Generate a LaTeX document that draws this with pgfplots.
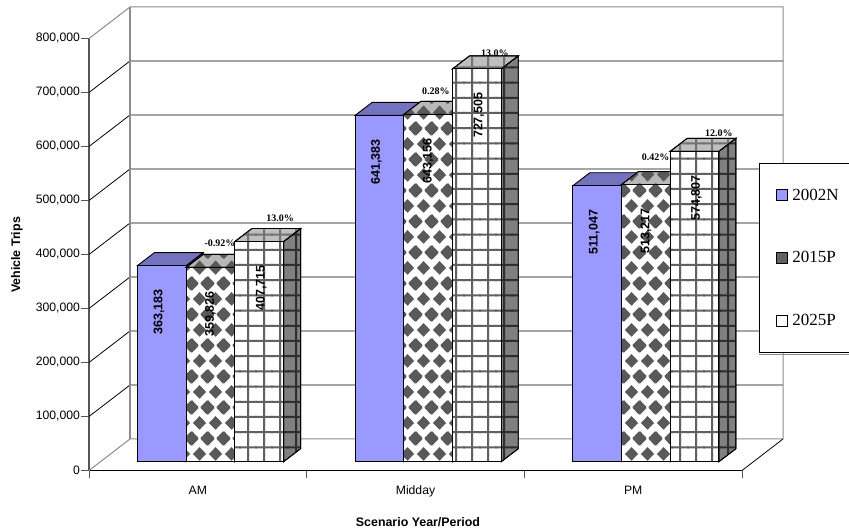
\documentclass[border=0pt]{standalone}
\usepackage{fontspec}
\setmainfont{Liberation Sans}
\newfontfamily\timesfont{Liberation Serif}
\usepackage{pgfplots}
\pgfplotsset{compat=1.18}
\usetikzlibrary{patterns}

% Repeating fills for the two projected-year series
\pgfdeclarepatternformonly{diamondtile}{\pgfqpoint{0bp}{0bp}}{\pgfqpoint{16bp}{31bp}}{\pgfqpoint{16bp}{31bp}}{
  \foreach \cx/\cy in {0/0,16/0,0/31,16/31,8/15.5}{
    \pgfpathmoveto{\pgfpoint{\cx bp-7bp}{\cy bp}}
    \pgfpathlineto{\pgfpoint{\cx bp}{\cy bp+7bp}}
    \pgfpathlineto{\pgfpoint{\cx bp+7bp}{\cy bp}}
    \pgfpathlineto{\pgfpoint{\cx bp}{\cy bp-7bp}}
    \pgfpathclose
  }
  \pgfusepath{fill}
}
% The strokes overrun the step a little so that neighbouring tiles join without a seam
\pgfdeclarepatternformonly{gridtile}{\pgfqpoint{-1bp}{-1bp}}{\pgfqpoint{17bp}{16.2bp}}{\pgfqpoint{16bp}{15.2bp}}{
  \pgfpathrectangle{\pgfqpoint{7bp}{-1bp}}{\pgfqpoint{2bp}{17.2bp}}
  \pgfpathrectangle{\pgfqpoint{-1bp}{6.6bp}}{\pgfqpoint{18bp}{2bp}}
  \pgfusepath{fill}
}

\definecolor{baseblue}{HTML}{9999FF}
\definecolor{basetop}{HTML}{7272C0}
\definecolor{baseside}{HTML}{5C5C99}
\definecolor{axisgray}{HTML}{555555}
\definecolor{wallgray}{HTML}{8C8C8C}

\tikzset{
  edge/.style={draw=black,line width=0.9bp,line join=miter},
  basefront/.style={edge,fill=baseblue},
  basetopface/.style={edge,fill=basetop},
  basesideface/.style={edge,fill=baseside},
  diamondfront/.style={edge,preaction={fill=white},pattern=diamondtile,pattern color=black!65},
  diamondtopface/.style={edge,preaction={fill=black!28},pattern=diamondtile,pattern color=black!65},
  diamondsideface/.style={edge,preaction={fill=black!50},pattern=diamondtile,pattern color=black!80},
  gridfront/.style={edge,preaction={fill=white},pattern=gridtile,pattern color=black!62},
  gridtopface/.style={edge,preaction={fill=black!25},pattern=gridtile,pattern color=black!55},
  gridsideface/.style={edge,preaction={fill=black!50},pattern=gridtile,pattern color=black!82},
}

% Side and top of one bar: left edge, width, value, side style, top style.
% The depth runs 17 units of width to the right and 13 units of height upward.
\newcommand{\barfaces}[5]{%
  \edef\facecmds{%
    \noexpand\addplot[#4,forget plot] coordinates {
      (\fpeval{#1+#2},0) (\fpeval{#1+#2+0.0781},24074)
      (\fpeval{#1+#2+0.0781},\fpeval{#3+24074}) (\fpeval{#1+#2},#3)} -- cycle;
    \noexpand\addplot[#5,forget plot] coordinates {
      (#1,#3) (\fpeval{#1+0.0781},\fpeval{#3+24074})
      (\fpeval{#1+#2+0.0781},\fpeval{#3+24074}) (\fpeval{#1+#2},#3)} -- cycle;
  }\facecmds
}

\pgfplotsset{
  valuelabel/.style={
    draw=none,forget plot,point meta=y,
    nodes near coords,
    nodes near coords align={center},
    every node near coord/.append style={
      yshift=-46.5bp,xshift=#1,rotate=90,
      font=\bfseries\fontsize{12.5bp}{14bp}\selectfont,
      /pgf/number format/fixed,
      /pgf/number format/precision=0,
      /pgf/number format/1000 sep={,},
      /pgf/number format/assume math mode=true,
      inner sep=0pt},
  },
}

\begin{document}
\begin{tikzpicture}
\useasboundingbox (0,0) rectangle (849bp,531bp);

% Front axis with the back wall, floor and side wall of the chart box
\begin{axis}[
  at={(89bp,60.5bp)},anchor=south west,
  scale only axis,width=653bp,height=432bp,
  clip=false,
  xmin=0,xmax=3,ymin=0,ymax=800000,
  axis x line*=bottom,axis y line*=left,
  x axis line style={black,line width=1bp,-},
  y axis line style={axisgray,line width=1.6bp,-},
  xtick={0,1,2,3},
  x tick label as interval=true,
  xticklabels={AM,Midday,PM},
  ytick={0,100000,200000,300000,400000,500000,600000,700000,800000},
  scaled y ticks=false,
  tick align=outside,
  major tick length=7.5bp,
  tick style={axisgray,line width=1bp},
  tick label style={font=\fontsize{12.2bp}{14bp}\selectfont},
  xticklabel style={yshift=-4.5bp},
  yticklabel style={xshift=2bp},
  /pgf/number format/fixed,
  /pgf/number format/1000 sep={,},
  /pgf/number format/assume math mode=true,
  xlabel={Scenario Year/Period},
  ylabel={Vehicle Trips},
  every axis x label/.style={at={(axis description cs:0.5038,-0.1192)},anchor=center,
    font=\bfseries\fontsize{12.4bp}{14bp}\selectfont},
  every axis y label/.style={at={(axis description cs:-0.1103,0.4988)},rotate=90,anchor=center,
    font=\bfseries\fontsize{12.4bp}{14bp}\selectfont},
]
\addplot[wallgray,line width=1bp] coordinates {(0,0) (0.18836,58333) (3.18836,58333)};
\addplot[black,line width=0.8bp] coordinates {(3,0) (3.18836,58333)};
\addplot[black,line width=0.8bp] coordinates {(0,100000) (0.18836,158333) (3.18836,158333)};
\addplot[black,line width=0.8bp] coordinates {(0,200000) (0.18836,258333) (3.18836,258333)};
\addplot[black,line width=0.8bp] coordinates {(0,300000) (0.18836,358333) (3.18836,358333)};
\addplot[black,line width=0.8bp] coordinates {(0,400000) (0.18836,458333) (3.18836,458333)};
\addplot[black,line width=0.8bp] coordinates {(0,500000) (0.18836,558333) (3.18836,558333)};
\addplot[black,line width=0.8bp] coordinates {(0,600000) (0.18836,658333) (3.18836,658333)};
\addplot[black,line width=0.8bp] coordinates {(0,700000) (0.18836,758333) (3.18836,758333)};
\addplot[wallgray,line width=1bp] coordinates {(0,800000) (0.18836,858333) (3.18836,858333) (3.18836,58333)};
\addplot[wallgray,line width=1.2bp] coordinates {(0.18836,58333) (0.18836,858333)};
\end{axis}

% Bars stand on the floor, a little behind the front axis
\begin{axis}[
  at={(89bp,69.3bp)},anchor=south west,
  scale only axis,width=653bp,height=432bp,
  clip=false,hide axis,
  xmin=0,xmax=3,ymin=0,ymax=800000,
  legend cell align=left,
  legend style={
    at={(1.026,0.6907)},anchor=north west,
    draw=black,line width=0.8bp,fill=white,
    inner xsep=17bp,inner ysep=23bp,
    row sep=46bp,
    /tikz/column 2/.style={column sep=5bp},
    font=\timesfont\fontsize{17bp}{18bp}\selectfont,
  },
]
% 2002N
\barfaces{0.2228}{0.2237}{363183}{basesideface}{basetopface}
\barfaces{1.2228}{0.2237}{641383}{basesideface}{basetopface}
\barfaces{2.2228}{0.2237}{511047}{basesideface}{basetopface}
\addplot[ybar,bar width=48.7bp,bar shift=0pt,basefront,
  legend image code/.code={\draw[edge,fill=baseblue] (0bp,-5.5bp) rectangle (11bp,5.5bp);}]
  coordinates {(0.3347,363183) (1.3347,641383) (2.3347,511047)};
\addlegendentry{\hspace{2bp}2002N\hspace{30bp}}
% 2015P
\barfaces{0.4465}{0.2237}{359826}{diamondsideface}{diamondtopface}
\barfaces{1.4465}{0.2237}{643156}{diamondsideface}{diamondtopface}
\barfaces{2.4465}{0.2237}{513217}{diamondsideface}{diamondtopface}
\addplot[ybar,bar width=48.7bp,bar shift=0pt,diamondfront,
  legend image code/.code={\draw[edge,fill=black!62] (0bp,-5.5bp) rectangle (11bp,5.5bp);}]
  coordinates {(0.5584,359826) (1.5584,643156) (2.5584,513217)};
\addlegendentry{\hspace{2bp}2015P}
% 2025P
\barfaces{0.6702}{0.2237}{407715}{gridsideface}{gridtopface}
\barfaces{1.6702}{0.2237}{727505}{gridsideface}{gridtopface}
\barfaces{2.6702}{0.2237}{574807}{gridsideface}{gridtopface}
\addplot[ybar,bar width=48.7bp,bar shift=0pt,gridfront,
  legend image code/.code={
    \draw[edge,fill=white] (0bp,-5.5bp) rectangle (11bp,5.5bp);}]
  coordinates {(0.7821,407715) (1.7821,727505) (2.7821,574807)};
\addlegendentry{\hspace{2bp}2025P}

% Values written up the bars
\addplot[valuelabel=-3bp] coordinates {(0.3347,363183) (1.3347,641383) (2.3347,511047)};
\addplot[valuelabel=0bp] coordinates {(0.5584,359826) (1.5584,643156) (2.5584,513217)};
\addplot[valuelabel=2bp] coordinates {(0.7821,407715) (1.7821,727505) (2.7821,574807)};

% Percentage change between scenario years
\addplot[draw=none,forget plot,point meta=explicit symbolic,
  nodes near coords,nodes near coords align={center},
  every node near coord/.append style={
    font=\timesfont\bfseries\fontsize{10bp}{11bp}\selectfont,inner sep=0pt}]
  coordinates {
    (0.602,405000)[-0.92\%] (0.8775,451300)[13.0\%]
    (1.594,686500)[0.28\%] (1.865,756850)[13.0\%]
    (2.603,563000)[0.42\%] (2.894,608700)[12.0\%]
  };
\end{axis}
\draw[black!45,line width=1bp] (759bp,176.5bp) -- (849bp,176.5bp);
\end{tikzpicture}
\end{document}
